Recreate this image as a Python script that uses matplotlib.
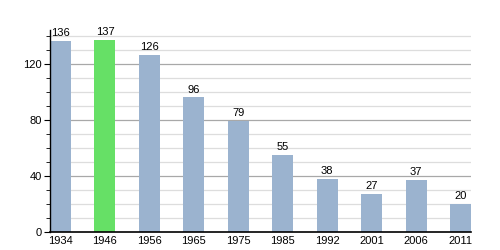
import matplotlib.pyplot as plt
import numpy as np

plt.rcParams["font.size"] = 8
plt.rcParams["font.family"] = "sans-serif"
plt.rcParams["font.sans-serif"] = "Liberation Sans"

years = ["1934", "1946", "1956", "1965", "1975", "1985", "1992", "2001", "2006", "2011"]
values = [136, 137, 126, 96, 79, 55, 38, 27, 37, 20]
highlight = "1946"

fig = plt.figure(figsize=(5, 2.5), dpi=100)
ax = fig.add_axes([0.1, 0.072, 0.842, 0.808])

x = np.arange(len(years))
colors = ["#66e066" if y == highlight else "#9bb3cf" for y in years]
w = 0.473

# grid: minor every 10, major every 40
for g in range(10, 141, 10):
    major = g % 40 == 0
    ax.axhline(g, color="#a8a8a8" if major else "#dddddd", lw=0.9, zorder=0)

ax.bar(x, values, width=w, color=colors, zorder=2)
for xi, v in zip(x, values):
    ax.text(xi, v + 2, str(v), ha="center", va="bottom")

ax.set_xlim(-w / 2, len(years) - 1 + w / 2)
ax.set_ylim(0, 144)
ax.set_xticks(x, years)
ax.tick_params(axis="x", length=0, pad=3)
ax.set_yticks([0, 40, 80, 120])
ax.set_yticks(np.arange(0, 141, 10), minor=True)
ax.tick_params(axis="y", which="major", length=4, width=0.8, pad=2)
ax.tick_params(axis="y", which="minor", length=3, width=0.6)

for s in ["top", "right"]:
    ax.spines[s].set_visible(False)
ax.spines["left"].set_linewidth(1)
ax.spines["bottom"].set_linewidth(1.2)

plt.savefig("out.png")
